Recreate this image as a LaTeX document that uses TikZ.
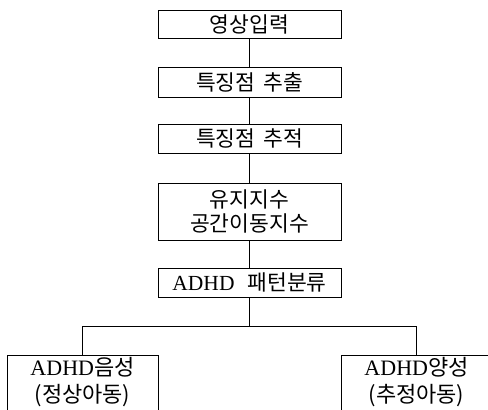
\documentclass[tikz,border=0pt]{standalone}
\usepackage{fontspec}
\setmainfont{Liberation Serif}
\newfontfamily\kr{Noto Sans CJK KR}
\begin{document}
\begin{tikzpicture}[x=1pt,y=-1pt,
  every node/.style={font=\fontsize{21.5}{24}\selectfont},
  box/.style={draw, line width=0.8pt, minimum width=183pt, inner sep=0pt, align=center},
  txt/.style={inner sep=0pt, align=center, font=\fontsize{22}{27}\selectfont},
  conn/.style={line width=0.8pt}]
\useasboundingbox (0,0) rectangle (488,410);
\clip (0,0) rectangle (488,410);
\node[box, minimum height=28pt] (b1) at (249.5,24) {\kr 영상입력};
\node[box, minimum height=30pt] (b2) at (249.5,82) {\kr 특징점\hspace{0.15em} 추출};
\node[box, minimum height=29pt] (b3) at (249.5,138.5) {\kr 특징점\hspace{0.15em} 추적};
\node[box, minimum height=57pt] (b4) at (249.5,211.5) {\kr 유지지수\\\kr 공간이동지수};
\node[box, minimum height=29pt] (b5) at (249.5,282.5) {ADHD\hspace{0.6em}{\kr 패턴분류}};
\node[draw, line width=0.8pt, minimum width=151pt, minimum height=80pt, anchor=north, inner sep=0pt] (lbox) at (82.5,355) {};
\node[draw, line width=0.8pt, minimum width=151pt, minimum height=80pt, anchor=north, inner sep=0pt] (rbox) at (416.5,355) {};
\node[txt] (ltxt) at (82.5,382) {ADHD{\kr 음성}\\{\kr (정상아동)}};
\node[txt] (rtxt) at (416.5,382) {ADHD{\kr 양성}\\{\kr (추정아동)}};
\coordinate (split) at (249.5,326);
\draw[conn] (b1) -- (b2);
\draw[conn] (b2) -- (b3);
\draw[conn] (b3) -- (b4);
\draw[conn] (b4) -- (b5);
\draw[conn] (b5) -- (split);
\draw[conn] (split) -| (lbox.north);
\draw[conn] (split) -| (rbox.north);
\end{tikzpicture}
\end{document}
